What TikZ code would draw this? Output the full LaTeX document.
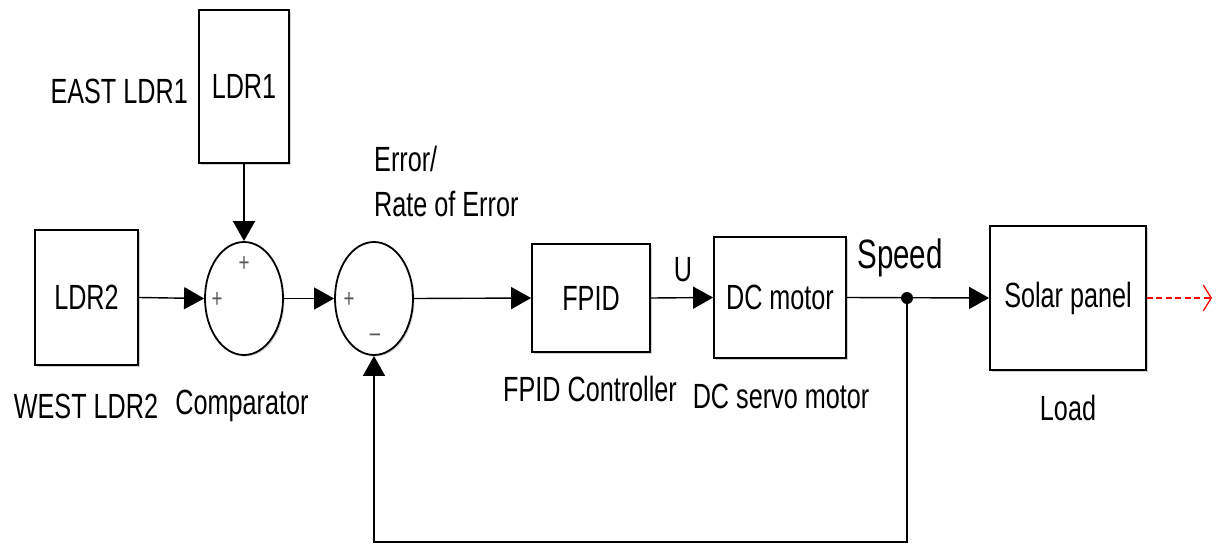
\documentclass[tikz,border=0pt]{standalone}
\usepackage{fontspec}
\setmainfont{Liberation Sans}
\usetikzlibrary{arrows.meta,shapes.geometric,shadows}
\newcommand{\tx}[1]{\scalebox{0.72}[1]{#1}}
\tikzset{
  blk/.style={draw, line width=1.8pt, fill=white, inner sep=0pt,
    drop shadow={shadow xshift=1.5pt, shadow yshift=-1.5pt, fill=black!30, opacity=0.6},
    font=\fontsize{35}{42}\selectfont},
  sumc/.style={ellipse, draw, line width=1.8pt, fill=white, inner sep=0pt,
    minimum width=78pt, minimum height=113pt,
    drop shadow={shadow xshift=1.5pt, shadow yshift=-1.5pt, fill=black!30, opacity=0.6}},
  arr/.style={-{Triangle[length=20pt,width=22pt]}, line width=1.4pt},
  lbl/.style={inner sep=0pt, font=\fontsize{35}{42}\selectfont},
  sgn/.style={inner sep=0pt, text=black!65, font=\fontsize{26}{30}\selectfont}
}
\begin{document}
\begin{tikzpicture}[x=1pt,y=-1pt]
\useasboundingbox (0,0) rectangle (1216,544);
% blocks
\node[blk, minimum width=90pt, minimum height=153pt] (ldr1) at (244,86.5) {\tx{LDR1}};
\node[blk, minimum width=103pt, minimum height=135pt] (ldr2) at (86.5,297.5) {\tx{LDR2}};
\node[sumc] (comp) at (244,298.5) {};
\node[sumc] (sum) at (374,298.5) {};
\node[blk, minimum width=118pt, minimum height=108pt] (fpid) at (591,298) {\tx{FPID}};
\node[blk, minimum width=132pt, minimum height=121pt] (dc) at (780,297.5) {\tx{DC motor}};
\node[blk, minimum width=156pt, minimum height=144pt] (solar) at (1068,298) {\tx{Solar panel}};
% signs
\node[sgn] (p1) at (244,264) {\tx{+}};
\node[sgn] (p2) at (217,300) {\tx{+}};
\node[sgn] (p3) at (349,300) {\tx{+}};
\node[sgn] (m1) at (375,338) {\tx{--}};
% labels
\node[lbl, anchor=east] (eastl) at (188,91) {\tx{EAST LDR1}};
\node[lbl] (westl) at (86,406) {\tx{WEST LDR2}};
\node[lbl] (compl) at (242,406) {\tx{Comparator}};
\node[lbl, anchor=west] (err1) at (374,159) {\tx{Error/}};
\node[lbl, anchor=west] (err2) at (374,204) {\tx{Rate of Error}};
\node[lbl] (fpidl) at (590,389) {\tx{FPID Controller}};
\node[lbl] (dcl) at (781,396) {\tx{DC servo motor}};
\node[lbl] (ul) at (683,270) {\tx{U}};
\node[lbl, font=\fontsize{41}{48}\selectfont] (speedl) at (900,258) {\tx{Speed}};
\node[lbl] (loadl) at (1068,408) {\tx{Load}};
% connectors
\draw[arr] (ldr1.south) -- (comp.north);
\draw[arr] (ldr2.east) -- (comp.west);
\draw[arr] (comp.east) -- (sum.west);
\draw[arr] (sum.east) -- (fpid.west);
\draw[arr] (fpid.east) -- (dc.west);
\draw[arr] (dc.east) -- (solar.west);
\node[circle, fill=black, inner sep=0pt, minimum size=12pt] (dot) at (907,298) {};
\coordinate (fb) at (907,542);
\draw[arr] (dot.center) -- (fb) -| (sum.south);
\coordinate (out) at (1212,298);
\draw[red, dash pattern=on 6pt off 3.5pt, line width=1.3pt, -{Straight Barb[length=8pt,width=26pt]}] (solar.east) -- (out);
\end{tikzpicture}
\end{document}
